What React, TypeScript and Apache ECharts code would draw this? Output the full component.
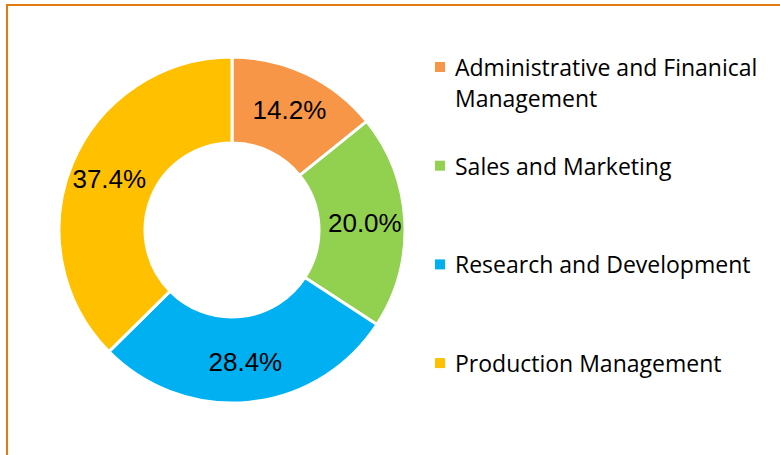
import React, { useEffect, useRef } from "react";
import * as echarts from "echarts";

const categories = [
  "Administrative and Finanical\nManagement",
  "Sales and Marketing",
  "Research and Development",
  "Production Management",
];
const values = [14.2, 20.0, 28.4, 37.4];
const colors = ["#F79646", "#92D050", "#00B0F0", "#FFC000"];

export default function App() {
  const ref = useRef<HTMLDivElement>(null);
  useEffect(() => {
    if (!ref.current) return;
    const chart = echarts.init(ref.current, null, { renderer: "svg" });
    const legendX = 435;
    const legendTop = 67;
    const legendStep = 98.7;
    const lineH = 31;
    const legendGraphics: any[] = [];
    categories.forEach((name, i) => {
      const cy = legendTop + i * legendStep;
      legendGraphics.push({
        type: "rect",
        shape: { x: legendX, y: cy - 5, width: 10, height: 10 },
        style: { fill: colors[i] },
      });
      legendGraphics.push({
        type: "text",
        x: legendX + 20,
        y: cy - lineH / 2,
        style: {
          text: name,
          font: "23px 'Open Sans'",
          fill: "#000000",
          lineHeight: lineH,
          verticalAlign: "top",
          align: "left",
        },
      });
    });
    chart.setOption({
      animation: false,
      backgroundColor: "#ffffff",
      graphic: [
        {
          type: "rect",
          shape: { x: 7, y: 5, width: 800, height: 500 },
          style: { fill: "none", stroke: "#E27A10", lineWidth: 2 },
          z: 10,
        },
        ...legendGraphics,
      ],
      series: [
        {
          type: "pie",
          center: [232, 230],
          radius: [87, 173],
          startAngle: 90,
          clockwise: true,
          avoidLabelOverlap: false,
          data: categories.map((n, i) => ({
            name: n,
            value: values[i],
            itemStyle: { color: colors[i] },
          })),
          itemStyle: { borderColor: "#ffffff", borderWidth: 3 },
          label: {
            show: true,
            position: "inside",
            formatter: (p: any) => p.value.toFixed(1) + "%",
            fontFamily: "'Liberation Sans', Arial, sans-serif",
            fontSize: 26,
            color: "#000000",
          },
          labelLine: { show: false },
          emphasis: { disabled: true },
        },
      ],
    });
    return () => chart.dispose();
  }, []);
  return (
    <div
      ref={ref}
      style={{ position: "fixed", left: 0, top: 0, width: 780, height: 455 }}
    />
  );
}
